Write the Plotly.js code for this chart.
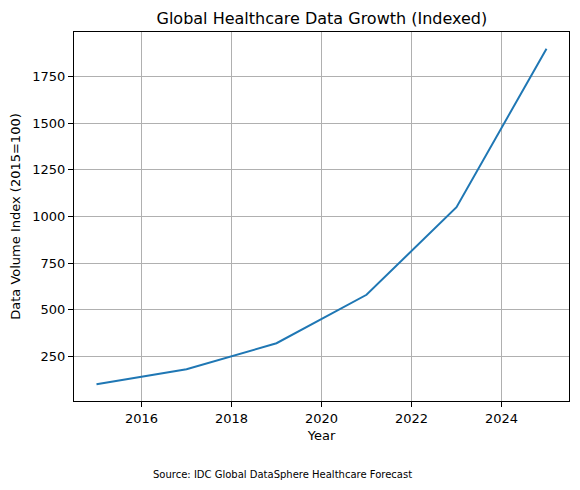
<!DOCTYPE html>
<html><head><meta charset="utf-8">
<script src="https://cdn.plot.ly/plotly-3.0.1.min.js"></script>
<style>body{margin:0;padding:0;background:#fff}#chart{width:580px;height:490px}</style>
</head><body><div id="chart"></div>
<script>
const years = [2015, 2017, 2019, 2021, 2023, 2025];
const indexValues = [100, 180, 320, 580, 1050, 1900];
const xTicks = [2016, 2018, 2020, 2022, 2024];
const yTicks = [250, 500, 750, 1000, 1250, 1500, 1750];
const titleText = 'Global Healthcare Data Growth (Indexed)';
const xLabel = 'Year';
const yLabel = 'Data Volume Index (2015=100)';
const sourceText = 'Source: IDC Global DataSphere Healthcare Forecast';

const font = {family: 'DejaVu Sans, sans-serif', size: 13, color: '#000'};
const axisCommon = {
  showline: true, linecolor: '#000', linewidth: 1, mirror: true,
  ticks: 'outside', ticklen: 5, tickwidth: 1, tickcolor: '#000',
  showgrid: true, gridcolor: '#b0b0b0', gridwidth: 1, zeroline: false,
  tickfont: {family: 'DejaVu Sans, sans-serif', size: 13, color: '#000'}
};
Plotly.newPlot('chart', [{
  x: years, y: indexValues, type: 'scatter', mode: 'lines',
  line: {color: '#1f77b4', width: 2}
}], {
  width: 580, height: 490,
  margin: {l: 74, r: 11, t: 32, b: 89},
  paper_bgcolor: '#fff', plot_bgcolor: '#fff',
  font: font, showlegend: false,
  title: {text: titleText, font: {family: 'DejaVu Sans, sans-serif', size: 16, color: '#000'}, x: 0.555, xanchor: 'center', y: 0.963, yanchor: 'middle'},
  xaxis: Object.assign({}, axisCommon, {range: [2014.5, 2025.5], tickvals: xTicks, ticktext: xTicks.map(String),
    title: {text: xLabel, font: {family: 'DejaVu Sans, sans-serif', size: 13, color: '#000'}, standoff: 6}}),
  yaxis: Object.assign({}, axisCommon, {range: [10, 1990], tickvals: yTicks, ticktext: yTicks.map(String),
    title: {text: yLabel, font: {family: 'DejaVu Sans, sans-serif', size: 13, color: '#000'}, standoff: 8}}),
  annotations: [{text: sourceText, xref: 'paper', yref: 'paper', x: 0.421, y: -0.2005, xanchor: 'center', yanchor: 'middle',
    showarrow: false, font: {family: 'DejaVu Sans, sans-serif', size: 10, color: '#000'}}]
}, {displayModeBar: false, staticPlot: true});
</script></body></html>
